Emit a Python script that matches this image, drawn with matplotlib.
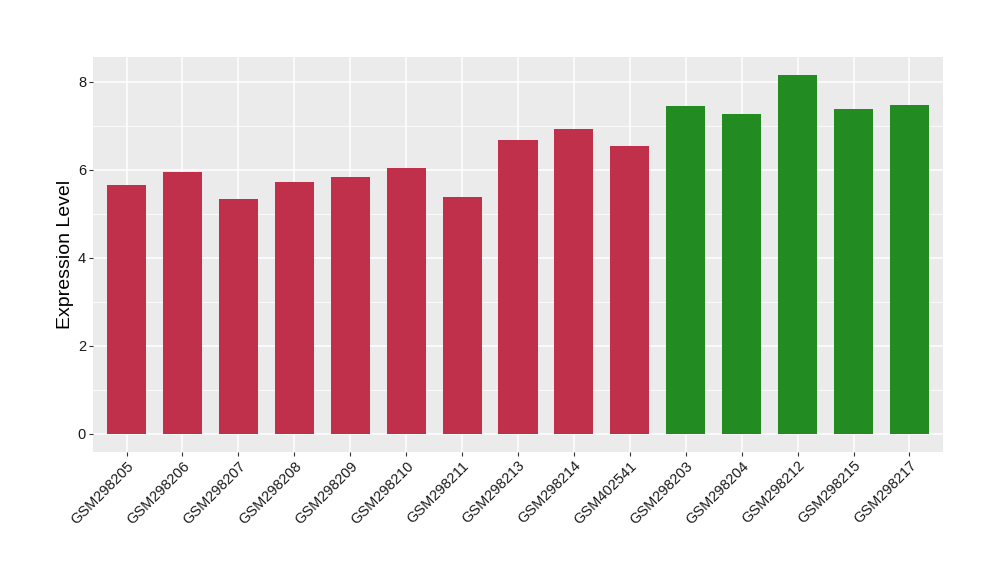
import matplotlib
matplotlib.use("Agg")
import matplotlib.pyplot as plt
import numpy as np

plt.rcParams['font.family'] = ['Liberation Sans', 'DejaVu Sans']

samples = ["GSM298205", "GSM298206", "GSM298207", "GSM298208", "GSM298209",
           "GSM298210", "GSM298211", "GSM298213", "GSM298214", "GSM402541",
           "GSM298203", "GSM298204", "GSM298212", "GSM298215", "GSM298217"]
values = [5.65, 5.95, 5.33, 5.72, 5.84, 6.05, 5.38, 6.68, 6.93, 6.54,
          7.45, 7.27, 8.16, 7.38, 7.47]
groups = ["a"] * 10 + ["b"] * 5
group_colors = {"a": "#C0304A", "b": "#228B22"}
yticks = [0, 2, 4, 6, 8]

fig = plt.figure(figsize=(10, 5.8), dpi=100)
ax = fig.add_axes([0.093, 0.2212, 0.850, 0.6810])
ax.set_facecolor("#EBEBEB")

x = np.arange(1, len(samples) + 1)
ax.bar(x, values, width=0.7, color=[group_colors[g] for g in groups], zorder=3)

vmax = max(values)
ax.set_ylim(-0.05 * vmax, vmax * 1.05)
ax.set_xlim(0.4, len(samples) + 0.6)

ax.set_yticks(yticks)
ax.set_yticks([1, 3, 5, 7], minor=True)
ax.set_xticks(x)
ax.set_xticklabels(samples, rotation=45, ha="right", va="top",
                   rotation_mode="anchor", fontsize=10.5, color="#1a1a1a")
ax.set_yticklabels([str(t) for t in yticks], fontsize=10.5, color="#1a1a1a")

ax.grid(True, which="major", color="white", linewidth=1.1, zorder=0)
ax.grid(True, which="minor", axis="y", color="white", linewidth=0.55, zorder=0)
ax.set_axisbelow(True)
for s in ax.spines.values():
    s.set_visible(False)
ax.tick_params(axis="both", which="major", length=3, width=0.8, color="#333333", pad=2)
ax.tick_params(axis="both", which="minor", length=0)

ax.set_ylabel("Expression Level", fontsize=14, color="black", labelpad=3)

fig.savefig("out.png", dpi=100)
